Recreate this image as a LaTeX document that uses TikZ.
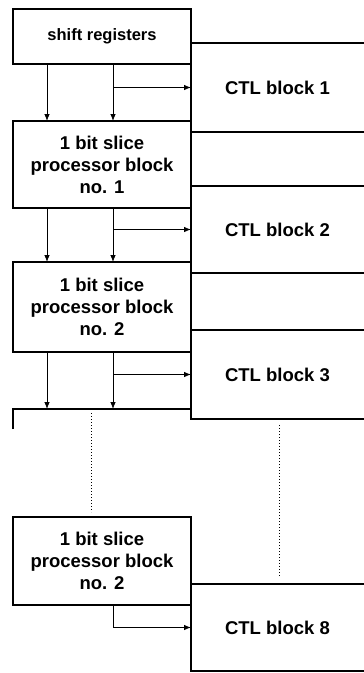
\documentclass[tikz,border=0pt]{standalone}
\usepackage{fontspec}
\setmainfont{Liberation Sans}
\usetikzlibrary{arrows.meta}
\begin{document}
\begin{tikzpicture}[x=1pt,y=-1pt,
  blk/.style={draw, line width=1.6pt, rectangle, anchor=north west, inner sep=0pt, outer sep=0pt,
    minimum width=178pt, align=center, font=\fontsize{18.5}{22}\selectfont\bfseries},
  ctl/.style={rectangle, anchor=north west, inner sep=0pt, outer sep=0pt,
    minimum width=173pt, align=center, font=\fontsize{18.5}{22}\selectfont\bfseries},
  outline/.style={line width=1.6pt},
  arr/.style={line width=0.8pt, -{Latex[length=7pt,width=5.5pt]}},
  dotline/.style={line width=1pt, dash pattern=on 1pt off 2pt}]
\useasboundingbox (0,0) rectangle (364,673);
\fill[white] (0,0) rectangle (364,673);
% columns for connectors
\coordinate (cl) at (47,0);
\coordinate (cr) at (113,0);
% processor-side blocks
\node[blk, minimum height=55pt, font=\fontsize{16.5}{20}\selectfont\bfseries] (sr) at (13,9) {shift registers};
\node[blk, minimum height=87pt] (p1) at (13,121) {1 bit slice\\processor block\\no. 1};
\node[blk, minimum height=90pt] (p2) at (13,262) {1 bit slice\\processor block\\no. 2};
\node[rectangle, anchor=north west, inner sep=0pt, outer sep=0pt, minimum width=178pt, minimum height=20pt] (pn) at (13,409) {};
\node[blk, minimum height=88pt] (p8) at (13,517) {1 bit slice\\processor block\\no. 2};
% CTL blocks (open on the right)
\node[ctl, minimum height=89pt] (c1) at (191,43) {CTL block 1};
\node[ctl, minimum height=87pt] (c2) at (191,186) {CTL block 2};
\node[ctl, minimum height=89pt] (c3) at (191,330) {CTL block 3};
\node[ctl, minimum height=87pt] (c8) at (191,584) {CTL block 8};
\foreach \c in {c1,c2,c3,c8}
  \draw[outline] (\c.north east) -- (\c.north west) -- (\c.south west) -- (\c.south east);
% partial box
\draw[outline] (pn.south west) -- (pn.north west) -- (pn.north east);
% connectors
\draw[arr] (sr.south -| cl) -- (p1.north -| cl);
\draw[arr] (sr.south -| cr) -- (p1.north -| cr);
\draw[arr] (c1.west -| cr) -- (c1.west);
\draw[arr] (p1.south -| cl) -- (p2.north -| cl);
\draw[arr] (p1.south -| cr) -- (p2.north -| cr);
\draw[arr] (c2.west -| cr) -- (c2.west);
\draw[arr] (p2.south -| cl) -- (pn.north -| cl);
\draw[arr] (p2.south -| cr) -- (pn.north -| cr);
\draw[arr] (c3.west -| cr) -- (c3.west);
\draw[arr] (p8.south -| cr) |- (c8.west);
% dotted continuation lines
\coordinate (d1a) at (91,413);
\coordinate (d1b) at (91,512);
\coordinate (d2a) at (279,425);
\coordinate (d2b) at (279,577);
\draw[dotline] (d1a) -- (d1b);
\draw[dotline] (d2a) -- (d2b);
\end{tikzpicture}
\end{document}
